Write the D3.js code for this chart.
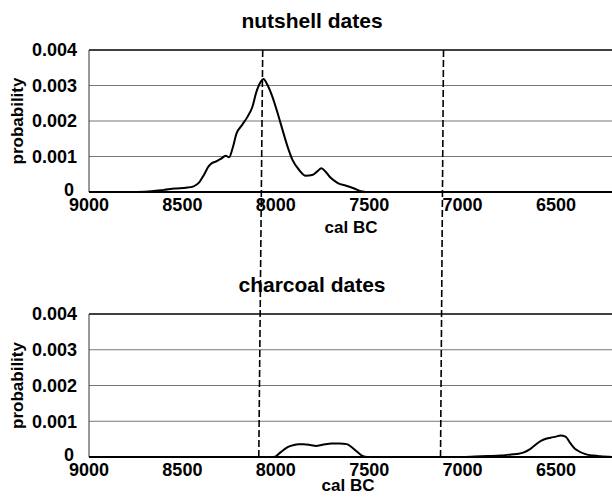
<!DOCTYPE html>
<html>
<head>
<meta charset="utf-8">
<script src="https://cdn.jsdelivr.net/npm/d3@7"></script>
<style>
body { margin:0; background:#fff; }
text { font-family: Arial, "Liberation Sans", sans-serif; fill:#000; }
</style>
</head>
<body>
<div id="svg"></div>
<script>
// summed probability
var nutYears = [8800,8700,8600,8540,8480,8440,8410,8385,8360,8340,8320,8295,8268,8250,8232,8210,8180,8150,8125,8105,8080,8066,8045,8018,7990,7964,7937,7910,7875,7840,7805,7778,7756,7733,7706,7670,7620,7580,7545,7520];
var nutProb  = [0,0.00001,0.00006,0.0001,0.00012,0.00016,0.00027,0.00048,0.00072,0.00082,0.00086,0.00093,0.00102,0.00098,0.00122,0.00165,0.00189,0.00213,0.0024,0.0028,0.00311,0.00318,0.00302,0.00268,0.00222,0.00175,0.00128,0.0009,0.00062,0.00046,0.00048,0.00058,0.00067,0.00057,0.0004,0.00026,0.00017,0.0001,0.00002,0];

var charYears = [9000,8010,7975,7945,7920,7880,7850,7810,7785,7750,7700,7660,7620,7590,7563,7536,7510,7000,6900,6800,6740,6700,6672,6645,6619,6590,6565,6529,6500,6476,6449,6422,6400,6387,6342,6300,6262,6200];
var charProb  = [0,0,0.00013,0.00025,0.00031,0.00036,0.00036,0.00033,0.00031,0.00034,0.00038,0.00038,0.00036,0.00026,0.00014,0.00003,0,0,0.00002,0.00004,0.00007,0.00009,0.00013,0.0002,0.0003,0.00042,0.00049,0.00054,0.00057,0.0006,0.00057,0.00038,0.00024,0.00019,0.00008,0.00004,0.00002,0];

var xTicks = [9000,8500,8000,7500,7000,6500];
var yTicks = [0,0.001,0.002,0.003,0.004];
var yLabels = ["0","0.001","0.002","0.003","0.004"];

// hand drawn dividers: [year at top, year at bottom]
var dividers = [[8070,8091],[7102,7118]];

var W = 612, H = 500;
var svg = d3.select("#svg").append("svg").attr("width",W).attr("height",H);

var x = d3.scaleLinear().domain([9000,6200]).range([89,612]);

var panels = [
  {title:"nutshell dates", years:nutYears, prob:nutProb, top:50, bottom:192, titleY:28, xLabY:211, calY:233, calX:351},
  {title:"charcoal dates", years:charYears, prob:charProb, top:314, bottom:457, titleY:292, xLabY:476, calY:491, calX:348}
];

function drawPanel(p){
  var y = d3.scaleLinear().domain([0,0.004]).range([p.bottom,p.top]);
  var g = svg.append("g");

  // grid
  g.selectAll(".grid").data(yTicks.slice(1,4)).enter()
    .append("line")
    .attr("x1",89).attr("x2",W)
    .attr("y1",d => y(d)).attr("y2",d => y(d))
    .attr("stroke","#777").attr("stroke-width",1);

  g.append("line").attr("x1",89).attr("x2",W).attr("y1",y(0.004)).attr("y2",y(0.004))
    .attr("stroke","#000").attr("stroke-width",1.3);
  g.append("line").attr("x1",89).attr("x2",89).attr("y1",p.top).attr("y2",p.bottom)
    .attr("stroke","#333").attr("stroke-width",1);

  var line = d3.line()
    .x((d,i) => x(p.years[i]))
    .y((d,i) => y(p.prob[i]))
    .curve(d3.curveMonotoneX);
  g.append("path").attr("d",line(p.years))
    .attr("fill","none").attr("stroke","#000").attr("stroke-width",2);

  g.append("line").attr("x1",89).attr("x2",W).attr("y1",y(0)).attr("y2",y(0))
    .attr("stroke","#000").attr("stroke-width",2);

  // labels
  g.selectAll(".yl").data(yTicks).enter()
    .append("text")
    .attr("x",d => d == 0 ? 74 : 77)
    .attr("y",d => d == 0 ? y(d) - 2 : y(d)).attr("dy","0.36em")
    .attr("text-anchor","end")
    .style("font-size","18px").style("font-weight","bold")
    .text((d,i) => yLabels[i]);

  g.selectAll(".xl").data(xTicks).enter()
    .append("text")
    .attr("x",d => x(d)).attr("y",p.xLabY)
    .attr("text-anchor","middle")
    .style("font-size","18px").style("font-weight","bold")
    .text(d => d);

  g.append("text").attr("x",p.calX).attr("y",p.calY).attr("text-anchor","middle")
    .style("font-size","17px").style("font-weight","bold").text("cal BC");

  g.append("text")
    .attr("transform","translate(23," + ((p.top+p.bottom)/2) + ") rotate(-90)")
    .attr("text-anchor","middle")
    .style("font-size","17px").style("font-weight","bold")
    .text("probability");
}

panels.forEach(drawPanel);

// dashed dividers spanning both panels
svg.selectAll(".div").data(dividers).enter()
  .append("line")
  .attr("x1",d => x(d[0])).attr("x2",d => x(d[1]))
  .attr("y1",50).attr("y2",457)
  .attr("stroke","#000").attr("stroke-width",1.6)
  .attr("stroke-dasharray","7,3");

// titles over the dividers
panels.forEach(function(p){
  svg.append("text").attr("x",312).attr("y",p.titleY).attr("text-anchor","middle")
    .style("font-size","21px").style("font-weight","bold")
    .text(p.title);
});
</script>
</body>
</html>
